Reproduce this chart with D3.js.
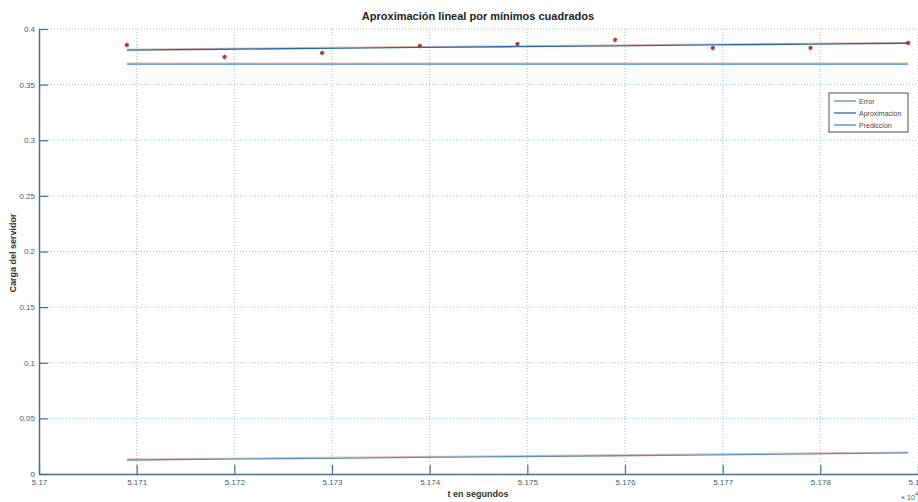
<!DOCTYPE html>
<html>
<head>
<meta charset="utf-8">
<script src="https://cdn.jsdelivr.net/npm/d3@7"></script>
<style>
  body { margin: 0; background: #fff; }
  svg { display: block; font-family: "Liberation Sans", Arial, sans-serif; }
</style>
</head>
<body>
<div id="chart"></div>
<script>
// tiempo en unidades de x10^4 segundos
const tiempo = [5.1709, 5.1719, 5.1729, 5.1739, 5.1749, 5.1759, 5.1769, 5.1779, 5.1789];
const carga = [0.3856, 0.3748, 0.3784, 0.3847, 0.3865, 0.3901, 0.3829, 0.3829, 0.3874];
const aproximacion = [0.3810, 0.3818, 0.3826, 0.3834, 0.3841, 0.3849, 0.3857, 0.3864, 0.3872];
const prediccion = [0.3685, 0.3685, 0.3685, 0.3685, 0.3685, 0.3685, 0.3685, 0.3685, 0.3685];
const error = [0.0126, 0.0133, 0.0141, 0.0149, 0.0156, 0.0164, 0.0172, 0.0181, 0.0189];

const xTicks = [5.17, 5.171, 5.172, 5.173, 5.174, 5.175, 5.176, 5.177, 5.178, 5.179];
const xTickLabels = ['5.17', '5.171', '5.172', '5.173', '5.174', '5.175', '5.176', '5.177', '5.178', '5.179'];
const yTicks = [0, 0.05, 0.1, 0.15, 0.2, 0.25, 0.3, 0.35, 0.4];
const yTickLabels = ['0', '0.05', '0.1', '0.15', '0.2', '0.25', '0.3', '0.35', '0.4'];

const seriesNames = ['Error', 'Aproximacion', 'Prediccion'];
const seriesColors = ['#5a8fbe', '#2b67a3', '#3b8ec4'];

const width = 918, height = 502;
const margin = { top: 29, left: 39, right: 0, bottom: 28 };

const svg = d3.select('#chart').append('svg')
  .attr('width', width)
  .attr('height', height);

const x = d3.scaleLinear().domain([5.17, 5.179]).range([margin.left, width - margin.right]);
const y = d3.scaleLinear().domain([0, 0.4]).range([height - margin.bottom, margin.top]);

// rejilla punteada
const grid = svg.append('g').attr('class', 'grid');
grid.selectAll('line.gx').data(xTicks.slice(1)).enter().append('line')
  .attr('class', 'gx')
  .attr('x1', d => x(d)).attr('x2', d => x(d))
  .attr('y1', y(0)).attr('y2', y(0.4))
  .attr('stroke', '#9cc0da').attr('stroke-width', 1)
  .attr('stroke-dasharray', '1,2');
grid.selectAll('line.gy').data(yTicks.slice(1)).enter().append('line')
  .attr('class', 'gy')
  .attr('x1', x(5.17)).attr('x2', width)
  .attr('y1', d => y(d)).attr('y2', d => y(d))
  .attr('stroke', '#9cc0da').attr('stroke-width', 1)
  .attr('stroke-dasharray', '1,2');

// ejes
const xAxis = d3.axisBottom(x)
  .tickValues(xTicks)
  .tickFormat((d, i) => xTickLabels[i])
  .tickSizeInner(-9).tickSizeOuter(0).tickPadding(4);
const yAxis = d3.axisLeft(y)
  .tickValues(yTicks)
  .tickFormat((d, i) => yTickLabels[i])
  .tickSizeInner(-9).tickSizeOuter(0).tickPadding(4);

const gX = svg.append('g')
  .attr('class', 'x axis')
  .attr('transform', `translate(0,${y(0)})`)
  .call(xAxis);
const gY = svg.append('g')
  .attr('class', 'y axis')
  .attr('transform', `translate(${x(5.17)},0)`)
  .call(yAxis);

[gX, gY].forEach(g => {
  g.select('.domain').attr('stroke', '#4b6f88').attr('stroke-width', 1.5);
  g.selectAll('.tick line').attr('stroke', '#4b6f88').attr('stroke-width', 1.2);
  g.selectAll('.tick text')
    .attr('fill', '#4a5866')
    .style('font-size', '8px')
    .style('font-family', '"Liberation Sans", Arial, sans-serif');
});
gX.selectAll('.tick text').attr('dy', '0.9em');
gY.selectAll('.tick text').attr('dy', '0.3em');

// lineas
const lineGen = (vals) => d3.line()
  .x((d, i) => x(tiempo[i]))
  .y(d => y(d))(vals);

const lineas = [error, aproximacion, prediccion];
const body = svg.append('g').attr('class', 'body');
lineas.forEach((vals, k) => {
  // halo rojizo del original
  body.append('path')
    .attr('d', lineGen(vals))
    .attr('transform', 'translate(0,-1)')
    .attr('fill', 'none')
    .attr('stroke', '#e39a86')
    .attr('stroke-opacity', 0.7)
    .attr('stroke-width', 1);
  body.append('path')
    .attr('d', lineGen(vals))
    .attr('fill', 'none')
    .attr('stroke', seriesColors[k])
    .attr('stroke-width', 1.3);
});

// puntos medidos
const star = d3.symbol().type(d3.symbolAsterisk).size(14);
body.selectAll('path.pt').data(carga).enter().append('path')
  .attr('class', 'pt')
  .attr('d', star)
  .attr('transform', (d, i) => `translate(${x(tiempo[i])},${y(d)})`)
  .attr('fill', 'none')
  .attr('stroke', '#a8323a')
  .attr('stroke-width', 1.4);

// titulo y etiquetas
svg.append('text')
  .attr('x', 478).attr('y', 20)
  .attr('text-anchor', 'middle')
  .style('font-size', '11px').style('font-weight', 'bold')
  .attr('fill', '#222')
  .text('Aproximación lineal por mínimos cuadrados');

svg.append('text')
  .attr('x', 478).attr('y', 497)
  .attr('text-anchor', 'middle')
  .style('font-size', '9px').style('font-weight', 'bold')
  .attr('fill', '#333')
  .text('t en segundos');

svg.append('text')
  .attr('transform', `translate(16,253) rotate(-90)`)
  .attr('text-anchor', 'middle')
  .style('font-size', '9px').style('font-weight', 'bold')
  .attr('fill', '#333')
  .text('Carga del servidor');

// exponente del eje x
const expo = svg.append('text')
  .attr('x', 901).attr('y', 500)
  .style('font-size', '7px')
  .attr('fill', '#555');
expo.append('tspan').text('× 10');
expo.append('tspan').attr('dy', -4).style('font-size', '6px').text('4');

// leyenda
const legend = svg.append('g').attr('class', 'legend')
  .attr('transform', 'translate(829,93)');
legend.append('rect')
  .attr('width', 79).attr('height', 39)
  .attr('fill', '#fff')
  .attr('stroke', '#7a6470').attr('stroke-width', 1.2);
seriesNames.forEach((name, i) => {
  const ly = 8 + i * 12;
  legend.append('line')
    .attr('x1', 5).attr('x2', 27)
    .attr('y1', ly).attr('y2', ly)
    .attr('stroke', seriesColors[i]).attr('stroke-width', 1.3);
  legend.append('text')
    .attr('x', 30).attr('y', ly + 3)
    .style('font-size', '7px')
    .attr('fill', '#444')
    .text(name);
});
</script>
</body>
</html>
